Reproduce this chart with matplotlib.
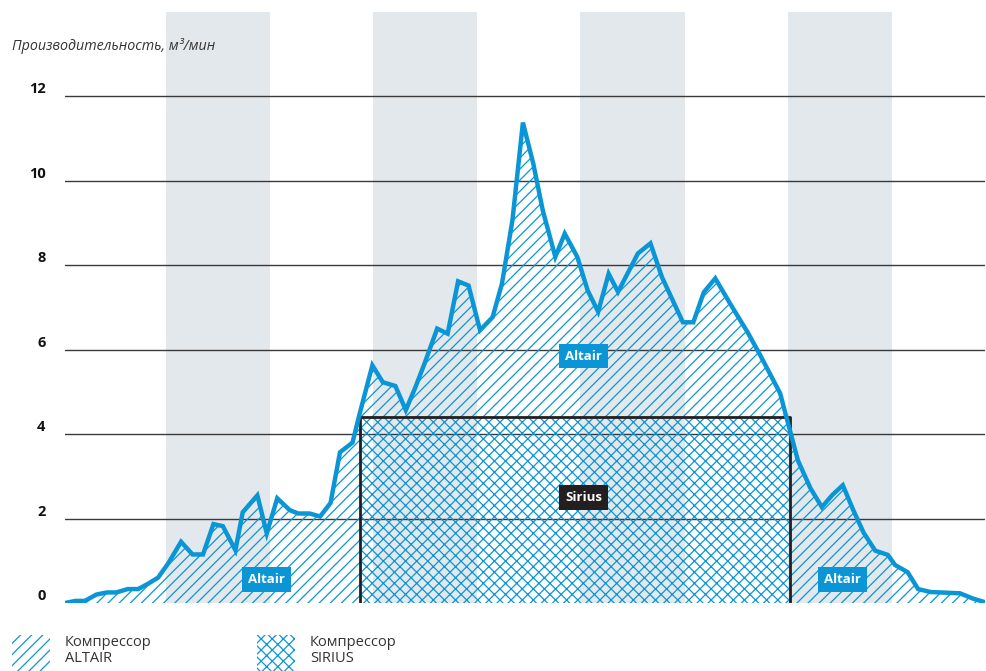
import numpy as np
import matplotlib.pyplot as plt
from matplotlib.patches import Rectangle

plt.rcParams['font.family'] = ['Open Sans', 'DejaVu Sans']
plt.rcParams['hatch.linewidth'] = 0.9

# Altair flow curve (x in sample units, y in m3/min)
altair_x = [0.0, 1.0, 1.9, 3.0, 4.0, 4.9, 6.0, 7.0, 7.9, 8.9, 9.9, 11.1, 12.2, 13.2,
            14.2, 15.1, 16.3, 17.0, 18.4, 19.3, 20.3, 21.5, 22.3, 23.4, 24.4, 25.4,
            26.3, 27.5, 28.2, 29.4, 30.4, 31.6, 32.6, 33.5, 34.4, 35.6, 36.6, 37.6,
            38.6, 39.7, 40.9, 41.8, 42.8, 43.8, 44.8, 45.7, 46.9, 47.8, 49.0, 50.0,
            51.0, 52.0, 52.9, 54.8, 56.0, 57.1, 59.1, 60.1, 61.1, 62.2, 63.6, 65.3,
            66.5, 68.4, 70.1, 71.3, 72.4, 73.4, 74.4, 75.4, 76.4, 77.5, 78.7, 79.4,
            80.6, 81.6, 82.8, 85.6, 86.9, 88.0]
altair_y = [0.0, 0.05, 0.05, 0.2, 0.25, 0.25, 0.33, 0.33, 0.45, 0.6, 0.95, 1.45, 1.15, 1.15,
            1.87, 1.82, 1.25, 2.15, 2.55, 1.65, 2.48, 2.2, 2.12, 2.12, 2.05, 2.37,
            3.57, 3.8, 4.5, 5.63, 5.23, 5.14, 4.57, 5.1, 5.68, 6.5, 6.38, 7.62,
            7.52, 6.46, 6.77, 7.57, 9.07, 11.38, 10.4, 9.3, 8.2, 8.75, 8.2, 7.4,
            6.9, 7.8, 7.37, 8.28, 8.52, 7.72, 6.65, 6.65, 7.36, 7.69, 7.1, 6.41,
            5.87, 4.97, 3.38, 2.72, 2.27, 2.56, 2.79, 2.2, 1.66, 1.24, 1.14, 0.9,
            0.73, 0.33, 0.26, 0.23, 0.1, 0.02]

# Sirius constant output block
sirius_start = 28.2
sirius_end = 69.3
sirius_level = 4.4

# shaded periods
bands = [(9.7, 19.6), (29.5, 39.4), (49.3, 59.3), (69.2, 79.1)]

y_ticks = [0, 2, 4, 6, 8, 10, 12]

blue = '#0a96d6'
dark = '#231f20'
band_col = '#e3e8ec'

fig = plt.figure(figsize=(9.86, 6.71), dpi=100)
ax = fig.add_axes([65 / 986, 68 / 671, 920 / 986, 591 / 671])
ax.set_xlim(0, 88)
ax.set_ylim(0, 14)

for a, b in bands:
    ax.axvspan(a, b, color=band_col, lw=0, zorder=0)

for t in y_ticks[1:]:
    ax.axhline(t, color='#3a3a3a', lw=1.0, zorder=1)

# Altair hatch, cut out where the Sirius block sits
x = np.array(altair_x)
y = np.array(altair_y)
xs = np.union1d(x, [sirius_start, sirius_end])
ys = np.interp(xs, x, y)
left = xs <= sirius_start
mid = (xs >= sirius_start) & (xs <= sirius_end)
right = xs >= sirius_end
ax.fill_between(xs[left], 0, ys[left], facecolor='none', edgecolor=blue,
                hatch='///', lw=0, zorder=2)
ax.fill_between(xs[mid], sirius_level, ys[mid], facecolor='none', edgecolor=blue,
                hatch='///', lw=0, zorder=2)
ax.fill_between(xs[right], 0, ys[right], facecolor='none', edgecolor=blue,
                hatch='///', lw=0, zorder=2)

# Sirius block
ax.add_patch(Rectangle((sirius_start, 0), sirius_end - sirius_start, sirius_level,
                       facecolor='none', edgecolor=blue, hatch='xxx', lw=0, zorder=2))
ax.plot([sirius_start, sirius_start, sirius_end, sirius_end],
        [0, sirius_level, sirius_level, 0], color=dark, lw=2, zorder=3)

ax.plot(x, y, color=blue, lw=3.2, zorder=4, solid_joinstyle='miter')

label_kw = dict(ha='center', va='center', color='white', fontsize=9.5,
                fontweight='bold', zorder=5)
for lx, ly in [(19.3, 0.55), (49.6, 5.85), (74.4, 0.55)]:
    ax.text(lx, ly, 'Altair', bbox=dict(boxstyle='square,pad=0.45', fc=blue, ec='none'),
            **label_kw)
ax.text(49.6, 2.5, 'Sirius', bbox=dict(boxstyle='square,pad=0.45', fc=dark, ec='none'),
        **label_kw)

for sp in ax.spines.values():
    sp.set_visible(False)
ax.set_xticks([])
ax.set_yticks(y_ticks)
ax.set_yticklabels([str(t) for t in y_ticks], fontweight='bold', fontsize=10.5,
                   va='bottom', color='#111111')
ax.tick_params(axis='y', length=0, pad=14)

fig.text(12 / 986, 1 - 46 / 671, 'Производительность, м³/мин', style='italic',
         fontsize=10.3, color='#333333', va='center', ha='left')

# legend
for px, name in [(12, 'ALTAIR'), (257, 'SIRIUS')]:
    h = '///' if name == 'ALTAIR' else 'xxx'
    fig.patches.append(Rectangle((px / 986, 0), 38 / 986, 36 / 671, transform=fig.transFigure,
                                 facecolor='none', edgecolor=blue, hatch=h, lw=0))
    fig.text((px + 53) / 986, 1 - 642 / 671, 'Компрессор', fontsize=10.5,
             color='#333333', va='center')
    fig.text((px + 53) / 986, 1 - 658 / 671, name, fontsize=10.5,
             color='#333333', va='center')

fig.savefig('out.png', dpi=100)
